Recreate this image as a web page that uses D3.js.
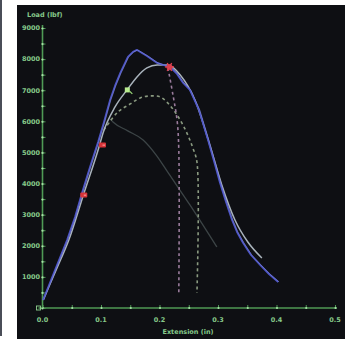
<!DOCTYPE html>
<html><head><meta charset="utf-8">
<script src="https://cdn.jsdelivr.net/npm/d3@7"></script>
<style>html,body{margin:0;padding:0;background:#fff;}svg{display:block;}</style>
</head><body>
<script>
// ---- data (extension in inches, load in lbf) ----
const xTicks = [0, 0.1, 0.2, 0.3, 0.4, 0.5];
const xTickLabels = ["0.0", "0.1", "0.2", "0.3", "0.4", "0.5"];
const yTicks = [1000, 2000, 3000, 4000, 5000, 6000, 7000, 8000, 9000];
const yTickLabels = ["1000", "2000", "3000", "4000", "5000", "6000", "7000", "8000", "9000"];
const xTitle = "Extension (in)";
const yTitle = "Load (lbf)";

const blueExt  = [0.001, 0.0214, 0.042, 0.0556, 0.0675, 0.0812, 0.095, 0.1051, 0.1155, 0.1239, 0.133, 0.146, 0.1547, 0.1615, 0.1786, 0.196, 0.206, 0.218, 0.2299, 0.2405, 0.252, 0.2675, 0.283, 0.2936, 0.3035, 0.3137, 0.324, 0.3325, 0.343, 0.3564, 0.372, 0.3872, 0.403];
const blueLoad = [257, 1222, 2186, 2926, 3698, 4534, 5338, 5981, 6688, 7138, 7556, 8071, 8232, 8296, 8103, 7878, 7813, 7749, 7524, 7235, 7010, 6367, 5402, 4695, 4019, 3408, 2830, 2444, 2090, 1704, 1383, 1093, 836];

const grayExt  = [0.001, 0.0248, 0.045, 0.071, 0.0966, 0.1035, 0.124, 0.1445, 0.1615, 0.1785, 0.196, 0.2145, 0.2355, 0.2605, 0.286, 0.3065, 0.329, 0.351, 0.375];
const grayLoad = [257, 1286, 2186, 3698, 5177, 5627, 6463, 7010, 7428, 7717, 7813, 7813, 7492, 6688, 5241, 3955, 2830, 2122, 1608];

const greenDashExt  = [0.105, 0.129, 0.150, 0.167, 0.184, 0.201, 0.214, 0.230, 0.246, 0.257, 0.264, 0.264];
const greenDashLoad = [5723, 6302, 6559, 6752, 6817, 6785, 6592, 6206, 5659, 5145, 4695, 482];

const pinkDashExt  = [0.2145, 0.223, 0.230, 0.233, 0.233];
const pinkDashLoad = [7717, 6849, 6045, 5080, 482];

const darkLineExt  = [0.1155, 0.1205, 0.145, 0.172, 0.195, 0.215, 0.252, 0.298];
const darkLineLoad = [6080, 5981, 5700, 5402, 4900, 4341, 3312, 1961];

const redMarkExt  = [0.068, 0.1];
const redMarkLoad = [3633, 5241];
const starExt = [0.217], starLoad = [7749];
const greenMarkExt = [0.145], greenMarkLoad = [7010];

// ---- layout ----
const W = 353, H = 339;
const svg = d3.select("body").append("svg").attr("width", W).attr("height", H);
svg.append("rect").attr("x", 0).attr("y", 0).attr("width", W).attr("height", H).attr("fill", "#ffffff");
svg.append("rect").attr("x", 0).attr("y", 0).attr("width", 2).attr("height", 336).attr("fill", "#4a4e58");
svg.append("rect").attr("x", 17).attr("y", 5).attr("width", 328).attr("height", 334).attr("fill", "#0e0f13");

const x = d3.scaleLinear().domain([0, 0.5]).range([42.5, 335]);
const y = d3.scaleLinear().domain([0, 9000]).range([308, 28]);

const axisCol = "#4f9a55", labCol = "#86c98a";

// x axis
const xAxis = d3.axisBottom(x).tickValues(d3.range(0, 0.5001, 0.05)).tickSize(0).tickFormat("");
const gx = svg.append("g").attr("transform", "translate(0,308)").call(xAxis);
gx.select(".domain").attr("stroke", axisCol).attr("stroke-width", 1.6).attr("d", `M${x(0)-4},0H${x(0.5)+2}`);
gx.selectAll(".tick").append("line").attr("y1", -3).attr("y2", 1).attr("stroke", axisCol).attr("stroke-width", 1);
gx.selectAll(".tick").append("circle").attr("r", 1.1).attr("fill", "#a8e0a8");
xTicks.forEach((v, i) => {
  svg.append("text").attr("x", x(v)).attr("y", 322).attr("text-anchor", "middle")
    .attr("font-family", "DejaVu Sans, sans-serif").attr("font-size", 6.5).attr("font-weight", "bold")
    .attr("fill", labCol).text(xTickLabels[i]);
});
svg.append("text").attr("x", 188).attr("y", 334).attr("text-anchor", "middle")
  .attr("font-family", "DejaVu Sans, sans-serif").attr("font-size", 6.5).attr("font-weight", "bold")
  .attr("fill", labCol).text(xTitle);

// y axis
const yAxis = d3.axisLeft(y).tickValues(d3.range(0, 9001, 500)).tickSize(0).tickFormat("");
const gy = svg.append("g").attr("transform", `translate(${x(0)},0)`).call(yAxis);
gy.select(".domain").attr("stroke", axisCol).attr("stroke-width", 1.6).attr("d", `M0,${y(0)}V${y(9000)-3}`);
gy.selectAll(".tick").append("line").attr("x1", -1).attr("x2", 3).attr("stroke", axisCol).attr("stroke-width", 1);
gy.selectAll(".tick").append("circle").attr("r", 1.1).attr("fill", "#a8e0a8");
yTicks.forEach((v, i) => {
  svg.append("text").attr("x", 40).attr("y", y(v) + 2.3).attr("text-anchor", "end")
    .attr("font-family", "DejaVu Sans, sans-serif").attr("font-size", 6.5).attr("font-weight", "bold")
    .attr("fill", labCol).text(yTickLabels[i]);
});
svg.append("text").attr("x", 27).attr("y", 17).attr("text-anchor", "start")
  .attr("font-family", "DejaVu Sans, sans-serif").attr("font-size", 6.5).attr("font-weight", "bold")
  .attr("fill", labCol).text(yTitle);
// origin box
svg.append("rect").attr("x", x(0) - 6).attr("y", y(0) - 2).attr("width", 4).attr("height", 4)
  .attr("fill", "none").attr("stroke", "#8fd08f").attr("stroke-width", 0.9);

// ---- curves ----
const zip = (a, b) => a.map((v, i) => [v, b[i]]);
const mkLine = c => d3.line().x(d => x(d[0])).y(d => y(d[1])).curve(c);

svg.append("path").datum(zip(darkLineExt, darkLineLoad))
  .attr("d", mkLine(d3.curveMonotoneX)).attr("fill", "none")
  .attr("stroke", "#3c4446").attr("stroke-width", 1.3);

svg.append("path").datum(zip(greenDashExt, greenDashLoad))
  .attr("d", mkLine(d3.curveCatmullRom)).attr("fill", "none")
  .attr("stroke", "#8a9a80").attr("stroke-width", 1.6).attr("stroke-dasharray", "3,3");

svg.append("path").datum(zip(pinkDashExt, pinkDashLoad))
  .attr("d", mkLine(d3.curveCatmullRom)).attr("fill", "none")
  .attr("stroke", "#9a7c9c").attr("stroke-width", 1.6).attr("stroke-dasharray", "3,3");

svg.append("path").datum(zip(grayExt, grayLoad))
  .attr("d", mkLine(d3.curveMonotoneX)).attr("fill", "none")
  .attr("stroke", "#a9b3bc").attr("stroke-width", 1.5);

svg.append("path").datum(zip(blueExt, blueLoad))
  .attr("d", mkLine(d3.curveLinear)).attr("fill", "none")
  .attr("stroke", "#4c54c4").attr("stroke-width", 1.8).attr("stroke-linejoin", "round");
svg.append("path").datum(zip(blueExt, blueLoad))
  .attr("d", mkLine(d3.curveLinear)).attr("fill", "none")
  .attr("stroke", "#8a92e0").attr("stroke-width", 0.5).attr("transform", "translate(0.8,0)");

// ---- markers ----
zip(redMarkExt, redMarkLoad).forEach(d => {
  svg.append("rect").attr("x", x(d[0]) - 2).attr("y", y(d[1]) - 2.5).attr("width", 7).attr("height", 5)
    .attr("rx", 1).attr("fill", "#d8353a");
  svg.append("rect").attr("x", x(d[0]) + 1.5).attr("y", y(d[1]) - 0.5).attr("width", 2.5).attr("height", 1.5)
    .attr("fill", "#f08080");
});
zip(starExt, starLoad).forEach(d => {
  const g = svg.append("g").attr("transform", `translate(${x(d[0])},${y(d[1])})`);
  g.append("circle").attr("r", 3).attr("fill", "#c83a48");
  [0, 60, 120].forEach(a => g.append("line").attr("x1", -4.5).attr("x2", 4.5)
    .attr("transform", `rotate(${a})`).attr("stroke", "#e04050").attr("stroke-width", 1.4));
});
zip(greenMarkExt, greenMarkLoad).forEach(d => {
  svg.append("rect").attr("x", x(d[0]) - 2.5).attr("y", y(d[1]) - 2.5).attr("width", 5).attr("height", 5)
    .attr("fill", "#b8ec90");
  svg.append("line").attr("x1", x(d[0]) + 2).attr("y1", y(d[1]) + 1).attr("x2", x(d[0]) + 5).attr("y2", y(d[1]) + 4)
    .attr("stroke", "#9ad878").attr("stroke-width", 1.2);
});
</script>
</body></html>
